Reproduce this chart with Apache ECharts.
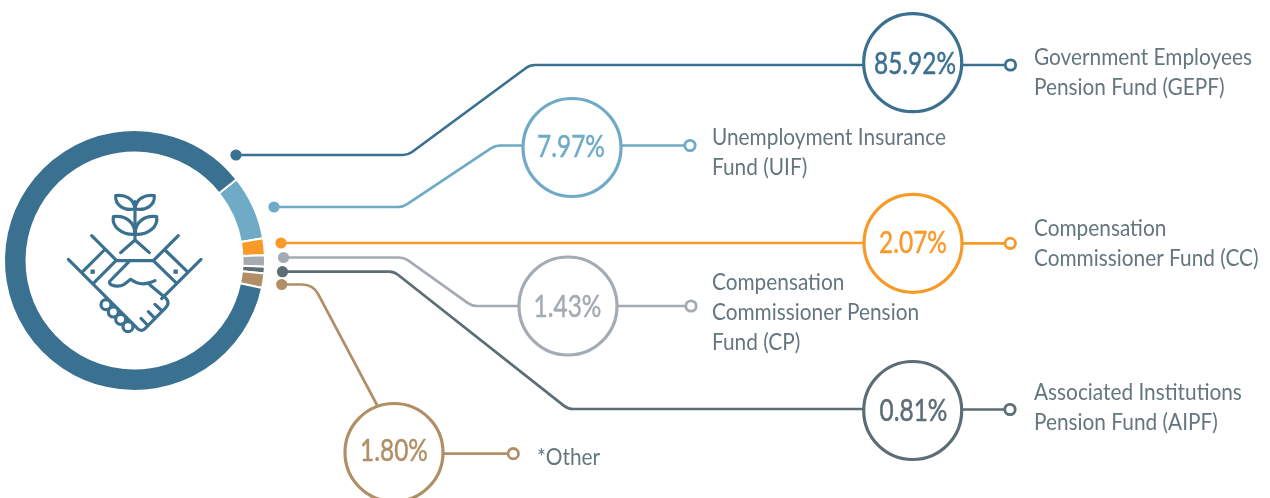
<!DOCTYPE html>
<html><head><meta charset="utf-8">
<style>html,body{margin:0;padding:0;background:#fff}#c{width:1270px;height:498px}</style>
<script src="https://cdn.jsdelivr.net/npm/echarts@6/dist/echarts.min.js"></script>
</head><body><div id="c"></div>
<script>
const categories = ['Unemployment Insurance\nFund (UIF)','Compensation\nCommissioner Fund (CC)','Compensation\nCommissioner Pension\nFund (CP)','Associated Institutions\nPension Fund (AIPF)','*Other','Government Employees\nPension Fund (GEPF)'];
const shares = [7.97,2.07,1.43,0.81,1.80,85.92];
const colors = ['#6faac6','#f79a28','#a4abb2','#5c6d75','#b08f66','#3a7090'];

// Layout of the call-outs (annotation geometry only)
const callouts = [
 {dot:[274,207],path:[[274,207],[403,207],[495,145.5],[523,145.5]],c:[572,147.5],t:[571,147],end:[690,145.5],label:[712,152.5]},
 {dot:[281,243],path:[[281,243],[864,243]],c:[913,243.3],t:[913,243],end:[1010.3,243.3],label:[1034,243.5]},
 {dot:[283.5,257.5],path:[[283.5,257.5],[404,257.5],[472,306],[519,306]],c:[568,306],t:[567.5,307],end:[691,306],label:[712,313]},
 {dot:[282.5,271.7],path:[[282.5,271.7],[394,271.7],[568,409],[864,409]],c:[912.7,410.5],t:[913.5,411],end:[1010,409.5],label:[1034,408]},
 {dot:[281.7,284.5],path:[[281.7,284.5],[313,284.5],[377,405]],c:[394,452.5],t:[394,451.5],end:[513.3,453.7],label:[537,458]},
 {dot:[236,155],path:[[236,155],[408,155],[530,65],[864,65]],c:[912.7,62.7],t:[915,64.5],end:[1010.5,65],label:[1034,72.5]}
];
const ringR=49;
function rounded(pts,rad){
  let d='M'+pts[0].join(' ');
  for(let i=1;i<pts.length-1;i++){
    const p=pts[i],a=pts[i-1],b=pts[i+1];
    const la=Math.hypot(a[0]-p[0],a[1]-p[1]),lb=Math.hypot(b[0]-p[0],b[1]-p[1]);
    const r=Math.min(rad,la/2,lb/2);
    d+=` L${p[0]+(a[0]-p[0])*r/la} ${p[1]+(a[1]-p[1])*r/la} Q${p[0]} ${p[1]} ${p[0]+(b[0]-p[0])*r/lb} ${p[1]+(b[1]-p[1])*r/lb}`;
  }
  return d+' L'+pts[pts.length-1].join(' ');
}
let pathCount=0;
function pathEl(d,style,extra){
  const name='svgp'+(pathCount++);
  echarts.graphic.registerShape(name,echarts.graphic.extendPath(d,{}));
  return Object.assign({type:name,style},extra||{});
}
const FONT='Lato';
const gfx=[];
callouts.forEach((o,i)=>{
  const col=colors[i];
  gfx.push(pathEl(rounded(o.path,i===4?11:5),{fill:null,stroke:col,lineWidth:2.7}));
  gfx.push({type:'circle',shape:{cx:o.dot[0],cy:o.dot[1],r:5.6},style:{fill:col}});
  gfx.push({type:'line',shape:{x1:o.c[0]+ringR,y1:o.end[1],x2:o.end[0]-5,y2:o.end[1]},style:{stroke:col,lineWidth:2.7}});
  gfx.push({type:'circle',shape:{cx:o.end[0],cy:o.end[1],r:5.2},style:{fill:'#fff',stroke:col,lineWidth:2.8}});
  gfx.push({type:'circle',shape:{cx:o.c[0],cy:o.c[1],r:ringR},style:{fill:'#fff',stroke:col,lineWidth:3.2}});
  gfx.push({type:'text',x:o.t[0],y:o.t[1],scaleX:0.8,style:{text:shares[i].toFixed(2)+'%',fill:col,stroke:col,lineWidth:0.5,font:'400 30.5px '+FONT,textAlign:'center',textVerticalAlign:'middle'}});
  gfx.push({type:'text',x:o.label[0],y:o.label[1],scaleX:0.905,style:{text:categories[i],fill:'#64767e',font:'400 23px '+FONT,lineHeight:30,textAlign:'left',textVerticalAlign:'middle'}});
});
// Handshake and plant emblem (drawn in a 450-unit box)
const icon=[
 'M225 72C190 78 165 60 167 32C195 28 222 40 225 72C260 78 285 60 283 32C255 28 228 40 225 72',
 'M225 148C185 150 155 125 160 95C195 90 225 110 225 148C265 150 295 125 290 95C255 90 225 110 225 148',
 'M225 50L225 165M182 203L225 165L268 203',
 'M95 152L170 227L280 227L355 152',
 'M25 223L232 430Q245 443 258 428L318 367Q330 353 318 340L270 300',
 'M423 223L305 341',
 'M133 195L68 260M168 227L103 292M315 195L382 260M280 227L347 292',
 'M207 230L150 288Q145 295 155 300Q175 308 193 298L212 283Q245 308 285 287',
 'M243 400L262 420M265 380L285 400M285 358L303 375'
];
icon.forEach(d=>gfx.push(pathEl(d,{fill:null,stroke:colors[5],lineWidth:9.5,lineCap:'round',lineJoin:'round'},{x:60,y:185,scaleX:1/3,scaleY:1/3})));
[[138,359],[160,381],[182,403],[204,425]].forEach(p=>gfx.push({type:'circle',x:60,y:185,scaleX:1/3,scaleY:1/3,shape:{cx:p[0],cy:p[1],r:15},style:{fill:'#fff',stroke:colors[5],lineWidth:9.5}}));
[[98,260],[347,260]].forEach(p=>gfx.push({type:'rect',x:60,y:185,scaleX:1/3,scaleY:1/3,shape:{x:p[0]-6.5,y:p[1]-6.5,width:13,height:13},style:{fill:colors[5]}}));

const chart=echarts.init(document.getElementById('c'),null,{renderer:'canvas'});
chart.setOption({
  animation:false,
  backgroundColor:'#fff',
  series:[{type:'pie',center:[134.5,260.5],radius:[108,130.5],startAngle:38.5,clockwise:true,silent:true,
    label:{show:false},labelLine:{show:false},
    itemStyle:{borderColor:'#fff',borderWidth:2},
    data:shares.map((v,i)=>({value:v,name:categories[i],itemStyle:{color:colors[i]}}))}],
  graphic:{elements:gfx}
});
</script></body></html>
